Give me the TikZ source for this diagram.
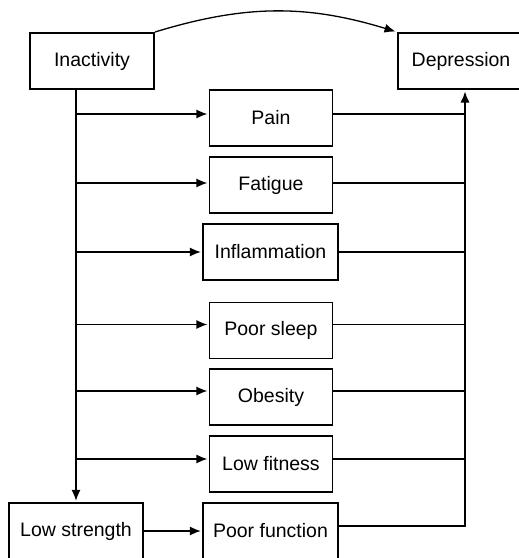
\documentclass[tikz,border=0pt]{standalone}
\usepackage{fontspec}
\setmainfont{Liberation Sans}
\usepackage{tikz}
\usetikzlibrary{arrows.meta}
\tikzset{>={Latex[length=11pt,width=9pt]}}
\tikzset{box/.style={draw, line width=1.3pt, minimum width=123pt, minimum height=56pt, inner sep=0pt, font=\fontsize{19.5}{22}\selectfont}}
\tikzset{mainbox/.style={box, line width=2pt, minimum width=124pt}}
\tikzset{link/.style={line width=1.3pt, shorten >=1.5pt}}

\begin{document}
\begin{tikzpicture}[x=1pt,y=1pt]
                    \useasboundingbox (0,0) rectangle (519,-558);

                    \node[mainbox] (inact) at (92,-61) {Inactivity};
                    \node[mainbox, minimum width=126pt] (dep) at (461,-61) {Depression};

                    \node[box] (pain) at (271,-118) {Pain};
                    \node[box] (fatigue) at (271,-185) {Fatigue};
                    \node[box, minimum width=135pt] (inflam) at (270.5,-252) {Inflammation};
                    \node[box] (sleep) at (271,-330.5) {Poor sleep};
                    \node[box] (obesity) at (271,-397) {Obesity};
                    \node[box] (fitness) at (271,-464) {Low fitness};
                    \node[box, minimum width=134pt] (strength) at (76,-531) {Low strength};
                    \node[box, minimum width=135pt] (function) at (270.5,-531) {Poor function};

                    \coordinate (rt) at (465,-526);

                    \draw[link,->] (inact.north east) to[bend left=17] (dep.north west);
                    \draw[link,->] (inact.south -| strength.north) -- (strength.north);
                    \draw[link,->] (strength) -- (function);
                    \draw[link,->] ([yshift=5pt]function.east) -- (rt) -- (rt |- dep.south);

                    \foreach \n/\s in {pain/4, fatigue/2, inflam/0, sleep/6, obesity/6, fitness/5} {
                        \draw[link,->] ([yshift=\s pt]\n.west -| strength.north) -- ([yshift=\s pt]\n.west);
                        \draw[link] ([yshift=\s pt]\n.east) -- ([yshift=\s pt]\n.east -| rt);
                    }
                \end{tikzpicture}
\end{document}
